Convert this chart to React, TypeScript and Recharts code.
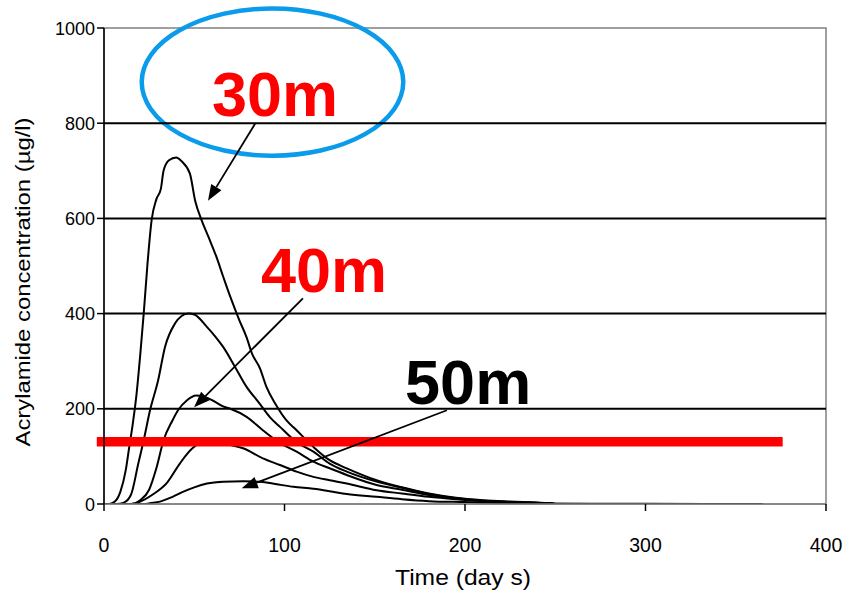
import { LineChart, Line, XAxis, YAxis, ReferenceLine, ReferenceArea, ReferenceDot } from 'recharts';

// time axis (days) and concentration (µg/l) for each depth curve
const days30 = [0, 3, 6, 9, 12, 14, 16, 18, 20, 22, 24, 26.4, 29, 31.5, 33, 36, 40, 43, 47.6, 50.5, 54, 58, 62.4, 66, 70, 75, 79, 82, 86.4, 90, 95, 101, 106.7, 116, 125, 134.5, 151, 165, 180, 195, 210, 225, 244, 250];
const conc30 = [0, 0, 5, 25, 70, 120, 170, 230, 310, 400, 500, 597, 640, 662, 700, 722, 728, 720, 694, 637, 597, 560, 518, 478, 435, 386, 350, 316, 285, 246, 210, 176, 155, 120, 92, 75, 50, 35, 22, 13, 8, 5, 2, 0];

const days35 = [0, 7, 11, 15, 19, 22, 25.5, 30, 33.8, 39.3, 43, 46.7, 50, 57, 62, 66, 72.6, 79, 86, 92, 97.5, 106.7, 116, 125, 134.5, 151, 165, 180, 195, 210, 225, 244, 250];
const conc35 = [0, 0, 3, 20, 85, 134, 197, 260, 330, 379, 395, 400, 398, 372, 350, 330, 288, 246, 212, 182, 162, 130, 110, 85, 68, 47, 34, 21, 12, 7, 4, 2, 0];

const days40 = [0, 15, 20, 25, 29, 33, 38, 41, 46, 51, 55, 60, 66, 70, 79, 88, 97.5, 106.7, 116, 125, 134.5, 151, 165, 180, 195, 210, 225, 244, 250];
const conc40 = [0, 0, 8, 30, 75, 134, 176, 197, 218, 228, 226, 218, 205, 200, 183, 155, 128, 110, 89, 75, 61, 40, 30, 19, 11, 6, 4, 2, 0];

const days45 = [0, 15, 20, 27, 35, 42, 49, 56, 63, 70, 77, 88, 97.5, 106.7, 116, 125, 134.5, 151, 165, 180, 195, 210, 225, 244, 250];
const conc45 = [0, 0, 5, 20, 45, 85, 117, 130, 130, 124, 117, 96, 82, 68, 57, 50, 43, 29, 22, 15, 10, 6, 3, 2, 0];

const days50 = [0, 22, 26, 31, 38, 44, 50, 57, 66, 77, 88, 95, 105, 116, 125, 134.5, 151, 165, 180, 200, 220, 244, 300, 365];
const conc50 = [0, 0, 2, 5, 15, 26, 35, 43, 47, 48, 46, 42, 36, 32, 27, 21, 15, 10, 6, 4, 2, 1, 0.5, 0];

const xTicks = [0, 100, 200, 300, 400];
const yTicks = [0, 200, 400, 600, 800, 1000];
const gridLevels = [200, 400, 600, 800];

// red limit bar
const limitConc = 131;
const limitFrom = -4;
const limitTo = 376;

// depth labels + arrows
const labelNames = ['30m', '40m', '50m'];
const labelColors = ['#FF0000', '#FF0000', '#000000'];
const labelDays = [59.8, 87, 166.8];
const labelConc = [815, 446, 210];
const arrowFromDays = [83.7, 110.2, 190];
const arrowFromConc = [799, 432, 197];
const arrowToDays = [57.6, 49.9, 76.3];
const arrowToConc = [637, 203, 33];

// blue ring round the 30m label
const ringDays = [20.9, 165.8];
const ringConc = [731.7, 1041];

const toRows = (d: number[], c: number[]) => d.map((day, i) => ({ day, c: c[i] }));
const curves = [toRows(days30, conc30), toRows(days35, conc35), toRows(days40, conc40), toRows(days45, conc45), toRows(days50, conc50)];

const FONT = '"Liberation Sans", Arial, sans-serif';

function Arrow(p: any) {
  const { x1, y1, x2, y2 } = p;
  const ang = Math.atan2(y2 - y1, x2 - x1);
  const len = 16, half = 6;
  const bx = x2 - len * Math.cos(ang), by = y2 - len * Math.sin(ang);
  const px = -Math.sin(ang) * half, py = Math.cos(ang) * half;
  return (
    <g>
      <line x1={x1} y1={y1} x2={bx} y2={by} stroke="#000" strokeWidth={1.8} />
      <polygon points={`${x2},${y2} ${bx + px},${by + py} ${bx - px},${by - py}`} fill="#000" />
    </g>
  );
}

function YTick({ x, y, payload }: any) {
  return (
    <text x={x} y={y} dy={6.5} textAnchor="end" fontSize={18} fontFamily={FONT} fill="#000">
      {payload.value}
    </text>
  );
}

function XTick({ x, y, payload }: any) {
  return (
    <text x={x} y={y} dy={31} textAnchor="middle" fontSize={19.5} fontFamily={FONT} fill="#000">
      {payload.value}
    </text>
  );
}

export default function App() {
  return (
    <div style={{ position: 'absolute', left: 0, top: 0, background: '#fff' }}>
      <LineChart width={848} height={593} margin={{ top: 28, right: 22, left: 44, bottom: 4 }}>
        <XAxis
          type="number"
          dataKey="day"
          domain={[0, 400]}
          ticks={xTicks}
          allowDataOverflow
          tickSize={7}
          tickMargin={10}
          height={85}
          axisLine={{ stroke: '#808080', strokeWidth: 1.5 }}
          tickLine={{ stroke: '#000', strokeWidth: 1.5 }}
          tick={<XTick />}
          label={({ viewBox }: any) => (
            <text x={viewBox.x + viewBox.width / 2 - 2} y={585} textAnchor="middle" fontSize={22} fontFamily={FONT} fill="#000" textLength={136} lengthAdjust="spacingAndGlyphs">
              Time (day s)
            </text>
          )}
        />
        <YAxis
          type="number"
          domain={[0, 1000]}
          ticks={yTicks}
          interval={0}
          allowDataOverflow
          width={60}
          tickSize={7}
          tickMargin={2}
          axisLine={{ stroke: '#000', strokeWidth: 1.5 }}
          tickLine={{ stroke: '#000', strokeWidth: 1.5 }}
          tick={<YTick />}
          label={() => (
            <text x={30} y={282} transform="rotate(-90 30 282)" textAnchor="middle" fontSize={21} fontFamily={FONT} fill="#000" textLength={329} lengthAdjust="spacingAndGlyphs">
              Acrylamide concentration (µg/l)
            </text>
          )}
        />
        <ReferenceArea x1={0} x2={400} y1={0} y2={1000} fill="none" stroke="#808080" strokeWidth={1.5} />
        {gridLevels.map((v) => (
          <ReferenceLine key={v} y={v} stroke="#000" strokeWidth={2} />
        ))}
        {curves.map((rows, i) => (
          <Line key={i} data={rows} dataKey="c" type="monotone" stroke="#000" strokeWidth={2} dot={false} isAnimationActive={false} />
        ))}
        <ReferenceLine
          segment={[{ x: limitFrom, y: limitConc }, { x: limitTo, y: limitConc }]}
          stroke="#FF0000"
          strokeWidth={9.5}
          ifOverflow="visible"
        />
        {labelNames.map((_, i) => (
          <ReferenceLine
            key={'a' + i}
            segment={[{ x: arrowFromDays[i], y: arrowFromConc[i] }, { x: arrowToDays[i], y: arrowToConc[i] }]}
            ifOverflow="visible"
            shape={(p: any) => <Arrow {...p} />}
          />
        ))}
        {labelNames.map((name, i) => (
          <ReferenceDot
            key={name}
            x={labelDays[i]}
            y={labelConc[i]}
            r={0}
            ifOverflow="visible"
            shape={(p: any) => (
              <text x={p.cx} y={p.cy} fill={labelColors[i]} fontSize={63} fontWeight="bold" fontFamily={FONT}>
                {name}
              </text>
            )}
          />
        ))}
        <ReferenceArea
          x1={ringDays[0]}
          x2={ringDays[1]}
          y1={ringConc[0]}
          y2={ringConc[1]}
          ifOverflow="visible"
          shape={(p: any) => (
            <ellipse cx={p.x + p.width / 2} cy={p.y + p.height / 2} rx={p.width / 2} ry={p.height / 2} fill="none" stroke="#0A9BEB" strokeWidth={4.5} />
          )}
        />
      </LineChart>
    </div>
  );
}
